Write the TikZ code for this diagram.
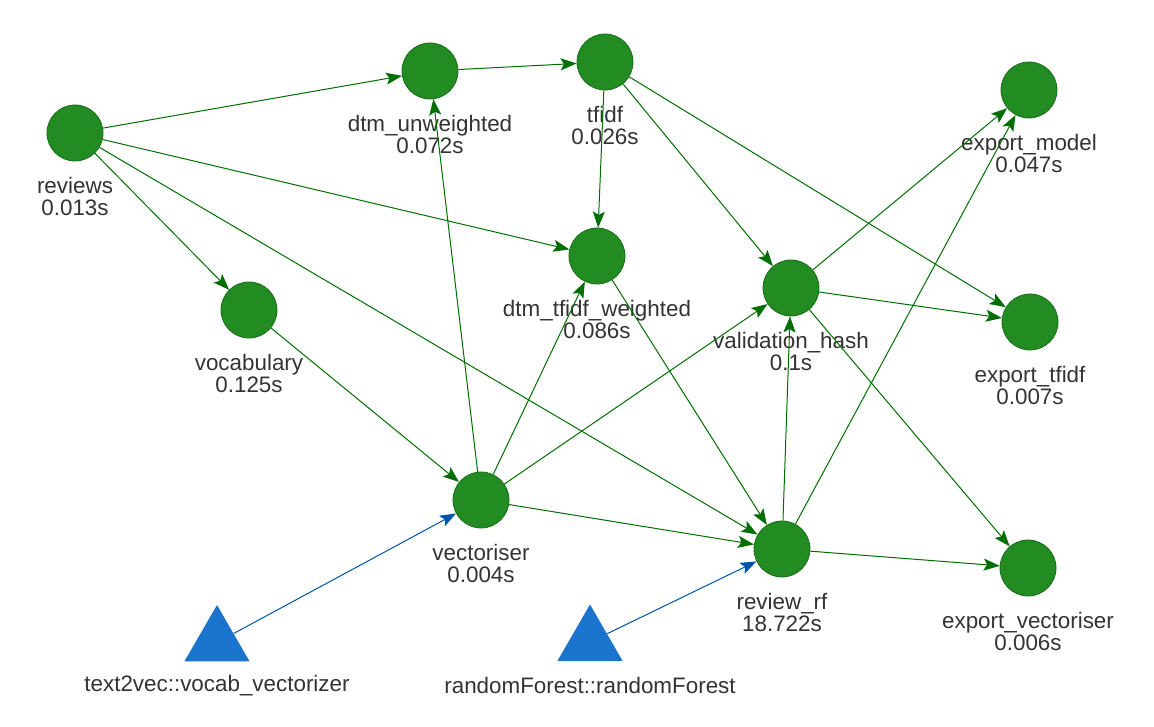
\documentclass[tikz,border=0pt]{standalone}
\usepackage{fontspec}
\setmainfont{Liberation Sans}
\usetikzlibrary{arrows.meta,shapes.geometric}
\definecolor{jobfill}{RGB}{34,139,34}
\definecolor{jobline}{RGB}{26,110,26}
\definecolor{flow}{RGB}{0,110,0}
\definecolor{pkgfill}{RGB}{26,116,206}
\definecolor{pkgflow}{RGB}{0,84,170}
\definecolor{txt}{RGB}{51,51,51}
\tikzset{
  job/.style={circle, fill=jobfill, draw=jobline, line width=0.6pt, minimum size=42pt, inner sep=0pt},
  pkg/.style={regular polygon, regular polygon sides=3, fill=pkgfill, draw=none, minimum size=56.3pt, inner sep=0pt},
  caption/.style={text=txt, align=center, font=\fontsize{16.8}{16.5}\selectfont, inner sep=0pt},
  dep/.style={draw=flow, line width=0.75pt, -{Stealth[length=12pt, width=9pt, inset=2.5pt]}},
  use/.style={draw=pkgflow, line width=0.75pt, -{Stealth[length=12pt, width=9pt, inset=2.5pt]}},
}
\begin{document}
\begin{tikzpicture}[x=0.75pt, y=-0.75pt]
\useasboundingbox (0,0) rectangle (1154,727);
% targets
\node[job] (reviews) at (75,133) {};
\node[job] (dtmu) at (430,71) {};
\node[job] (tfidf) at (605,62) {};
\node[job] (expmodel) at (1029,90) {};
\node[job] (dtmw) at (597,256) {};
\node[job] (valid) at (791,288) {};
\node[job] (exptfidf) at (1030,322) {};
\node[job] (vocab) at (249,310) {};
\node[job] (vect) at (481,500) {};
\node[job] (rf) at (782,549) {};
\node[job] (expvect) at (1028,568) {};
% packages
\node[pkg] (t2v) at (217,642.5) {};
\node[pkg] (rfpkg) at (590,642) {};
% captions
\node[caption] (reviewsl) at (75,196) {reviews\\0.013s};
\node[caption] (dtmul) at (430,134) {dtm\_unweighted\\0.072s};
\node[caption] (tfidfl) at (605,125) {tfidf\\0.026s};
\node[caption] (expmodell) at (1029,153) {export\_model\\0.047s};
\node[caption] (dtmwl) at (597,319) {dtm\_tfidf\_weighted\\0.086s};
\node[caption] (validl) at (791,351) {validation\_hash\\0.1s};
\node[caption] (exptfidfl) at (1030,385) {export\_tfidf\\0.007s};
\node[caption] (vocabl) at (249,373) {vocabulary\\0.125s};
\node[caption] (vectl) at (481,563) {vectoriser\\0.004s};
\node[caption] (rfl) at (782,612) {review\_rf\\18.722s};
\node[caption] (expvectl) at (1028,631) {export\_vectoriser\\0.006s};
\node[caption] (t2vl) at (217,686) {text2vec::vocab\_vectorizer};
\node[caption] (rfpkgl) at (590,685) {randomForest::randomForest};
% dependencies
\draw[dep] (reviews) -- (dtmu);
\draw[dep] (reviews) -- (dtmw);
\draw[dep] (reviews) -- (vocab);
\draw[dep] (reviews) -- (rf);
\draw[dep] (dtmu) -- (tfidf);
\draw[dep] (tfidf) -- (dtmw);
\draw[dep] (tfidf) -- (valid);
\draw[dep] (tfidf) -- (exptfidf);
\draw[dep] (vocab) -- (vect);
\draw[dep] (vect) -- (dtmu);
\draw[dep] (vect) -- (dtmw);
\draw[dep] (vect) -- (valid);
\draw[dep] (vect) -- (rf);
\draw[dep] (dtmw) -- (rf);
\draw[dep] (valid) -- (expmodel);
\draw[dep] (valid) -- (exptfidf);
\draw[dep] (valid) -- (expvect);
\draw[dep] (rf) -- (valid);
\draw[dep] (rf) -- (expmodel);
\draw[dep] (rf) -- (expvect);
\draw[use] (t2v) -- (vect);
\draw[use] (rfpkg) -- (rf);
\end{tikzpicture}
\end{document}
